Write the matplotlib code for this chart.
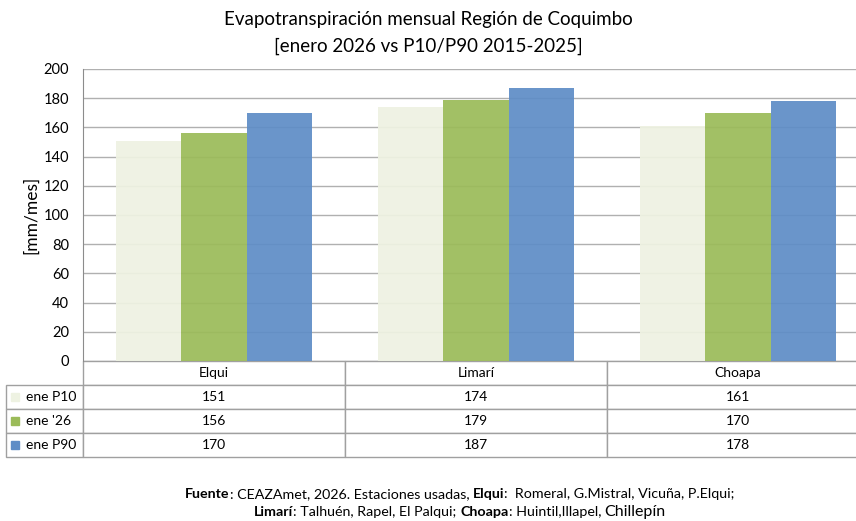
import matplotlib
matplotlib.use('Agg')
import matplotlib.pyplot as plt
from matplotlib.patches import Rectangle

plt.rcParams['font.family'] = ['Lato', 'DejaVu Sans']

categories = ['Elqui', 'Limarí', 'Choapa']
series_names = ['ene P10', "ene '26", 'ene P90']
p10 = [151, 174, 161]
ene26 = [156, 179, 170]
p90 = [170, 187, 178]
colors = ['#EEF2E2', '#9BBB59', '#5F8DC6']
yticks = list(range(0, 201, 20))

W, H = 856, 521
fig = plt.figure(figsize=(W / 100, H / 100), dpi=100)
ax = fig.add_axes([83 / W, 1 - 361 / H, 786 / W, 292 / H])

values = [p10, ene26, p90]
bw = 0.25
for k, (vals, col) in enumerate(zip(values, colors)):
    xs = [i + (k - 1) * bw for i in range(len(categories))]
    ax.bar(xs, vals, width=bw, color=col, alpha=0.93, zorder=2, linewidth=0)

ax.set_xlim(-0.5, len(categories) - 0.5)
ax.set_ylim(0, 200)
ax.set_yticks(yticks)
ax.set_xticks([])
ax.yaxis.grid(True, color='#B0B0B0', linewidth=1.0, zorder=0)
ax.set_axisbelow(True)
ax.tick_params(axis='y', length=0, pad=10, labelsize=10.5)
for s in ['top', 'right', 'bottom']:
    ax.spines[s].set_visible(False)
ax.spines['left'].set_color('#8C8C8C')
ax.set_ylabel('[mm/mes]', fontsize=12.5, labelpad=3)

# data table under the axis (bbox covers the data columns only)
cell_text = [[str(v) for v in vals] for vals in values]
tbl = ax.table(cellText=cell_text, rowLabels=series_names, colLabels=categories,
               cellLoc='center', rowLoc='left', colLoc='center',
               bbox=[0, -96 / 292, 1, 96 / 292])
tbl.auto_set_font_size(False)
tbl.set_fontsize(10)
for (r, c), cell in tbl.get_celld().items():
    cell.set_edgecolor('#A0A0A0')
    cell.set_linewidth(1.0)
    if c == -1:
        cell.set_width(66)
        cell.PAD = 0.26
    else:
        cell.set_width(262)

fig.canvas.draw()
rend = fig.canvas.get_renderer()
for r in range(1, 4):
    cell = tbl[r, -1]
    bb = cell.get_window_extent(rend)
    yc = (bb.y0 + bb.y1) / 2
    fig.patches.append(Rectangle(((bb.x0 + 5) / W, (yc - 4) / H), 8 / W, 8 / H,
                                 transform=fig.transFigure, color=colors[r - 1],
                                 figure=fig))

fig.text(428 / W, 1 - 20 / H, 'Evapotranspiración mensual Región de Coquimbo',
         ha='center', va='center', fontsize=13.5)
fig.text(428 / W, 1 - 46 / H, '[enero 2026 vs P10/P90 2015-2025]',
         ha='center', va='center', fontsize=13.5)

# footer with mixed bold/normal parts
footer_lines = [
    [('Fuente', 'bold', 10.3), (': CEAZAmet, 2026. Estaciones usadas, ', 'normal', 10.3),
     ('Elqui', 'bold', 10.3), (':  Romeral, G.Mistral, Vicuña, P.Elqui;', 'normal', 10.3)],
    [('Limarí', 'bold', 10.3), (': Talhuén, Rapel, El Palqui; ', 'normal', 10.3),
     ('Choapa', 'bold', 10.3), (': Huintil,Illapel, ', 'normal', 10.3),
     ('Chillepín', 'normal', 11.5)],
]
footer_y = [494, 512]
for parts, ypx in zip(footer_lines, footer_y):
    texts = [fig.text(0, 1 - ypx / H, s, fontweight=w, fontsize=fs, va='center')
             for s, w, fs in parts]
    widths = [t.get_window_extent(rend).width for t in texts]
    x = 460 - sum(widths) / 2
    for t, w in zip(texts, widths):
        t.set_x(x / W)
        x += w

fig.savefig('out.png', dpi=100)
